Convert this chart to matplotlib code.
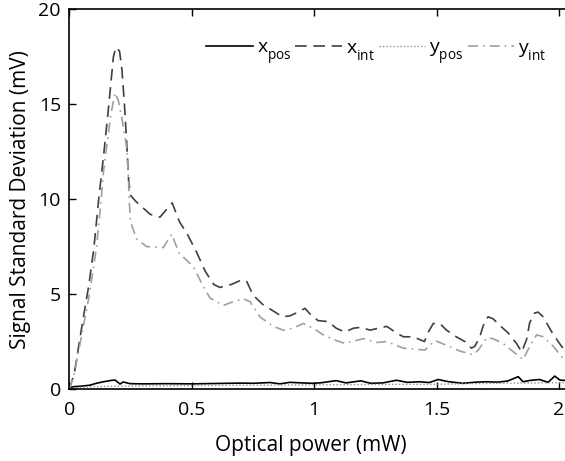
import matplotlib
matplotlib.use("Agg")
import matplotlib.pyplot as plt

plt.rcParams['font.family'] = ['Open Sans', 'DejaVu Sans']
plt.rcParams['mathtext.fontset'] = 'custom'
plt.rcParams['mathtext.rm'] = 'Open Sans'

# Lower the subscripts a little further below the baseline
try:
    import matplotlib._mathtext as _mt
    _mt.FontConstantsBase.sub1 = 0.75
    _mt.FontConstantsBase.subdrop = 0.75
except Exception:
    pass

# Optical power (mW) and signal standard deviation (mV) for each channel
x_int_p = [0.0, 0.02, 0.05, 0.08, 0.10, 0.12, 0.14, 0.16, 0.18, 0.19, 0.205, 0.215, 0.225,
           0.235, 0.242, 0.25, 0.27, 0.33, 0.37, 0.42, 0.45, 0.48, 0.52, 0.555, 0.59, 0.615,
           0.66, 0.705, 0.725, 0.75, 0.79, 0.84, 0.87, 0.90, 0.935, 0.962, 0.99, 1.016, 1.057,
           1.09, 1.125, 1.16, 1.19, 1.228, 1.262, 1.296, 1.336, 1.364, 1.404, 1.45, 1.466,
           1.486, 1.513, 1.54, 1.58, 1.615, 1.642, 1.656, 1.676, 1.697, 1.71, 1.73, 1.758,
           1.792, 1.826, 1.847, 1.867, 1.88, 1.90, 1.914, 1.935, 1.97, 1.996, 2.024]
x_int_v = [0.0, 0.8, 3.2, 5.5, 7.4, 10.0, 12.3, 14.8, 17.5, 18.0, 17.8, 16.8, 15.0,
           12.8, 11.0, 10.2, 9.9, 9.2, 9.05, 9.8, 8.8, 8.2, 7.2, 6.2, 5.5, 5.35,
           5.5, 5.75, 5.65, 4.95, 4.45, 4.05, 3.8, 3.85, 4.05, 4.25, 3.85, 3.6, 3.55,
           3.2, 3.0, 3.2, 3.25, 3.1, 3.2, 3.3, 2.95, 2.75, 2.75, 2.5, 3.0,
           3.45, 3.45, 3.1, 2.75, 2.5, 2.15, 2.25, 2.75, 3.6, 3.8, 3.7, 3.35,
           2.95, 2.4, 1.95, 2.6, 3.5, 4.0, 4.05, 3.8, 3.0, 2.5, 2.0]

y_int_p = [0.0, 0.02, 0.05, 0.078, 0.10, 0.112, 0.13, 0.14, 0.155, 0.17, 0.187, 0.20, 0.214,
           0.234, 0.241, 0.245, 0.25, 0.275, 0.316, 0.384, 0.418, 0.45, 0.465, 0.506, 0.547,
           0.574, 0.629, 0.669, 0.71, 0.738, 0.778, 0.833, 0.873, 0.914, 0.955, 0.996, 1.037,
           1.08, 1.125, 1.20, 1.256, 1.296, 1.364, 1.452, 1.493, 1.54, 1.595, 1.649, 1.67,
           1.704, 1.73, 1.771, 1.819, 1.853, 1.88, 1.908, 1.935, 1.976, 2.016, 2.024]
y_int_v = [0.0, 0.8, 2.8, 4.7, 6.5, 7.6, 10.0, 11.5, 13.0, 14.5, 15.6, 15.2, 14.3,
           12.75, 11.3, 9.8, 8.8, 7.9, 7.5, 7.45, 8.15, 7.1, 6.95, 6.45, 5.4,
           4.8, 4.4, 4.6, 4.75, 4.6, 3.8, 3.3, 3.1, 3.2, 3.45, 3.2, 2.85,
           2.6, 2.4, 2.65, 2.45, 2.5, 2.15, 2.05, 2.55, 2.3, 2.0, 1.8, 2.05,
           2.7, 2.65, 2.4, 1.9, 1.55, 2.25, 2.85, 2.75, 2.25, 1.6, 1.5]

x_pos_p = [0.0, 0.016, 0.05, 0.084, 0.11, 0.139, 0.17, 0.187, 0.207, 0.22, 0.248, 0.30, 0.40,
           0.50, 0.60, 0.70, 0.75, 0.82, 0.86, 0.90, 0.95, 0.995, 1.03, 1.09, 1.13, 1.19,
           1.23, 1.28, 1.336, 1.38, 1.43, 1.47, 1.506, 1.55, 1.608, 1.66, 1.704, 1.75,
           1.79, 1.833, 1.853, 1.88, 1.92, 1.955, 1.982, 2.003, 2.024]
x_pos_v = [0.05, 0.12, 0.15, 0.2, 0.3, 0.38, 0.45, 0.47, 0.26, 0.37, 0.28, 0.27, 0.28,
           0.27, 0.29, 0.31, 0.30, 0.34, 0.27, 0.35, 0.32, 0.30, 0.33, 0.44, 0.32, 0.43,
           0.30, 0.32, 0.46, 0.35, 0.38, 0.34, 0.50, 0.38, 0.30, 0.36, 0.38, 0.36,
           0.42, 0.65, 0.38, 0.45, 0.50, 0.35, 0.68, 0.47, 0.45]

y_pos_p = [0.0, 0.05, 0.10, 0.20, 0.30, 0.50, 0.75, 1.0, 1.25, 1.5, 1.75, 2.0, 2.024]
y_pos_v = [0.0, 0.10, 0.12, 0.15, 0.16, 0.18, 0.20, 0.22, 0.24, 0.25, 0.30, 0.33, 0.33]

x_ticks = [0, 0.5, 1, 1.5, 2]
x_tick_labels = ['0', '0.5', '1', '1.5', '2']
y_ticks = [0, 5, 10, 15, 20]

fig = plt.figure(figsize=(5.65, 4.61), dpi=100)
ax = fig.add_axes([0.1227, 0.1562, 1.0 - 0.1227, 0.8237])

ax.plot(x_pos_p, x_pos_v, color='black', lw=1.2, label=r'$\mathregular{x_{pos}}$')
ax.plot(x_int_p, x_int_v, color='#404040', lw=1.2, dashes=(7, 4), label=r'$\mathregular{x_{int}}$')
ax.plot(y_pos_p, y_pos_v, color='#909090', lw=1.0, linestyle=(0, (1, 1.5)), label=r'$\mathregular{y_{pos}}$')
ax.plot(y_int_p, y_int_v, color='#a0a0a0', lw=1.2, dashes=(6, 3, 1, 3), label=r'$\mathregular{y_{int}}$')

ax.set_xlim(0, 2.024)
ax.set_ylim(0, 20)
ax.set_xticks(x_ticks)
ax.set_xticklabels(x_tick_labels)
ax.set_yticks(y_ticks)
ax.tick_params(direction='in', length=5, width=1, labelsize=14, top=True, right=False)
ax.tick_params(axis='x', pad=9)
ax.tick_params(axis='y', pad=6)
ax.spines['right'].set_visible(False)
for s in ['left', 'bottom', 'top']:
    ax.spines[s].set_linewidth(1.2)

ax.set_xlabel('Optical power (mW)', fontsize=15)
ax.set_ylabel('Signal Standard Deviation (mV)', fontsize=15)
ax.xaxis.set_label_coords(0.487, -0.12)
ax.yaxis.set_label_coords(-0.077, 0.5)

ax.legend(loc='upper left', bbox_to_anchor=(0.365, 0.915), bbox_transform=fig.transFigure,
          ncol=4, frameon=False, fontsize=14, handlelength=2.4, handletextpad=0.2,
          columnspacing=0.2, borderaxespad=0, borderpad=0)

fig.savefig('out.png', dpi=100)
